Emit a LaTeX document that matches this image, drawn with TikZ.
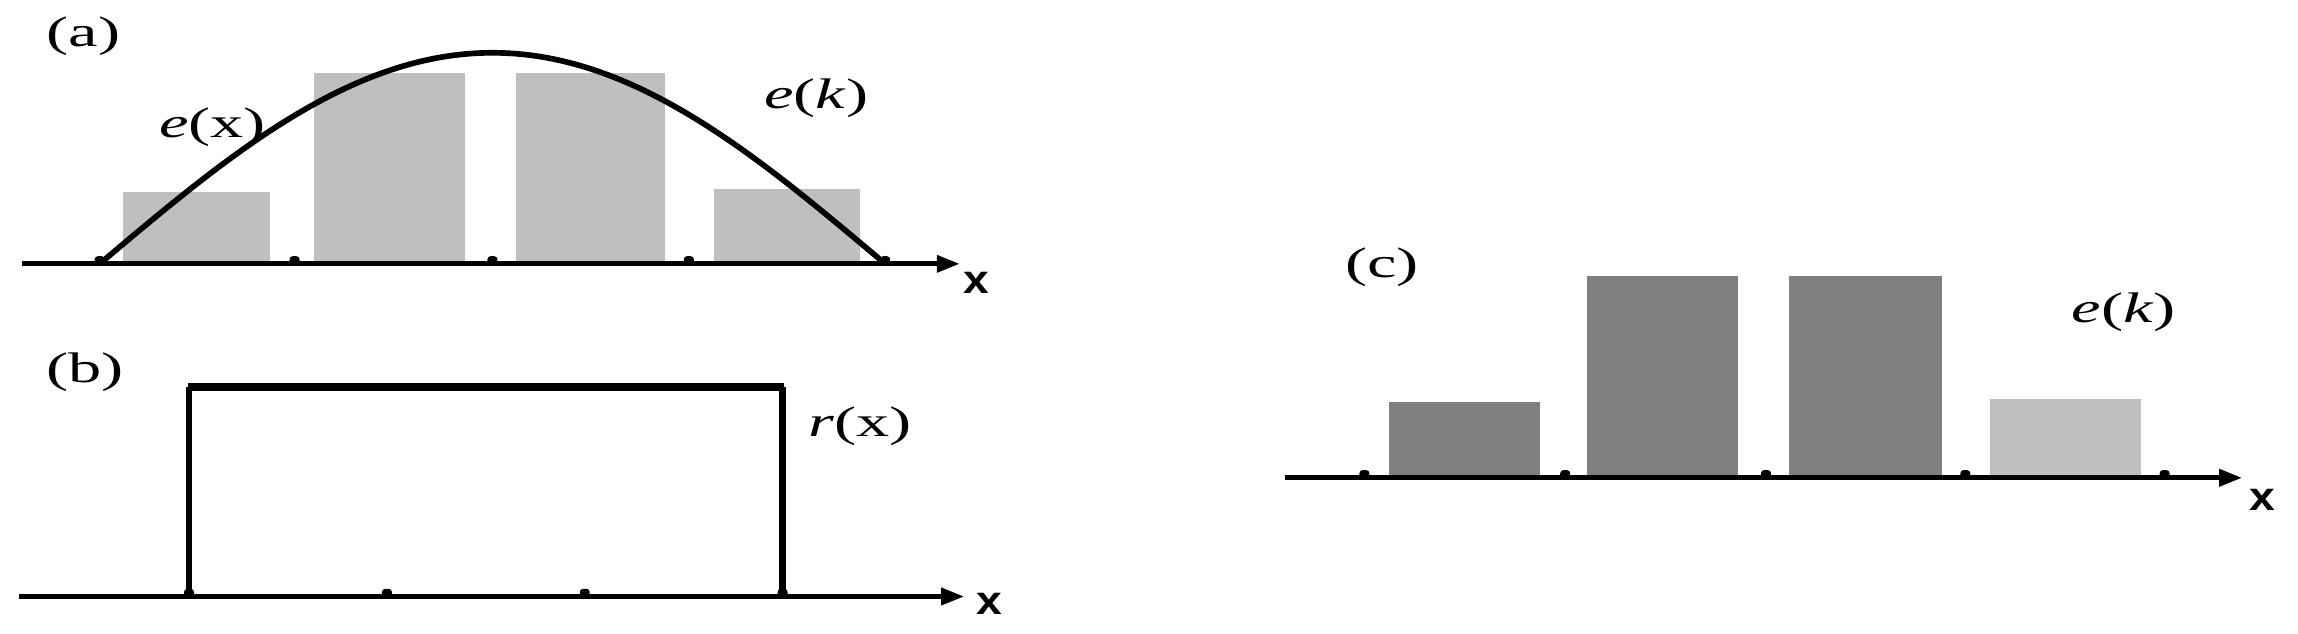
\documentclass[tikz,border=0pt]{standalone}
\usepackage{fontspec}
\usepackage{graphicx}
\setmainfont{Liberation Serif}
\newfontfamily\axisfont{Liberation Sans}
\usetikzlibrary{arrows.meta}
\definecolor{lightbar}{gray}{0.75}
\definecolor{darkbar}{gray}{0.5}
\newcommand{\widetext}[1]{\scalebox{1.55}[1]{#1}}
\tikzset{
  axisline/.style={line width=1pt, -{Triangle[length=4.5pt,width=3.2pt]}},
  lbl/.style={inner sep=0pt, font=\fontsize{8.3}{9}\selectfont},
  xlbl/.style={inner sep=0pt, font=\fontsize{7.8}{9}\selectfont\axisfont\bfseries},
  lightbarbox/.style={fill=lightbar},
  darkbarbox/.style={fill=darkbar},
  curveline/.style={line width=1.1pt},
  pulse/.style={line width=1.3pt},
}
\begin{document}
\begin{tikzpicture}[x=0.01cm,y=-0.01cm]
\useasboundingbox (0,0) rectangle (1568,432);
% ---------- (a)
\foreach \a/\b/\t in {84/184/131,214/317/50,352/454/50,487/587/129}
  \fill[lightbarbox] (\a,180) rectangle (\b,\t);
\draw[curveline] plot[domain=0:180, samples=120, smooth] ({68+2.97778*\x},{180-144*sin(\x)});
\coordinate (a0) at (15,180);
\coordinate (a1) at (655,180);
\draw[axisline] (a0) -- (a1);
\foreach \p in {68,201,336,470,604}
  \fill[rounded corners=0.6pt] (\p-3.4,174.8) rectangle (\p+3.4,180.5);
\node[lbl] (la) at (57,25) {\widetext{(a)}};
\node[lbl] (ex) at (145,87) {\widetext{\textit{e}(x)}};
\node[lbl] (eka) at (557,67) {\widetext{\textit{e}(\textit{k})}};
\node[xlbl] (xa) at (666,193) {\scalebox{1.15}[1]{x}};
% ---------- (b)
\draw[pulse] (129,407) -- (129,264);
\draw[pulse] (534,264) -- (534,407);
\draw[line width=1.6pt] (128.3,264) -- (534.7,264);
\coordinate (b0) at (13,407);
\coordinate (b1) at (658,407);
\draw[axisline] (b0) -- (b1);
\foreach \p in {129,264,399,534}
  \fill[rounded corners=0.6pt] (\p-3.4,401.8) rectangle (\p+3.4,407.5);
\node[lbl] (lb) at (58,254) {\widetext{(b)}};
\node[lbl] (rx) at (587,291) {\widetext{\textit{r}(x)}};
\node[xlbl] (xb) at (675,412) {\scalebox{1.15}[1]{x}};
% ---------- (c)
\foreach \a/\b/\t in {948/1051/274,1083/1186/188,1221/1325/188}
  \fill[darkbarbox] (\a,326) rectangle (\b,\t);
\fill[lightbarbox] (1358,326) rectangle (1461,272);
\coordinate (c0) at (877,326);
\coordinate (c1) at (1530,326);
\draw[axisline] (c0) -- (c1);
\foreach \p in {931,1068,1205,1341,1477}
  \fill[rounded corners=0.6pt] (\p-3.4,320.8) rectangle (\p+3.4,326.5);
\node[lbl] (lc) at (943,182) {\widetext{(c)}};
\node[lbl] (ekc) at (1449,213) {\widetext{\textit{e}(\textit{k})}};
\node[xlbl] (xc) at (1544,341) {\scalebox{1.15}[1]{x}};
\end{tikzpicture}
\end{document}
